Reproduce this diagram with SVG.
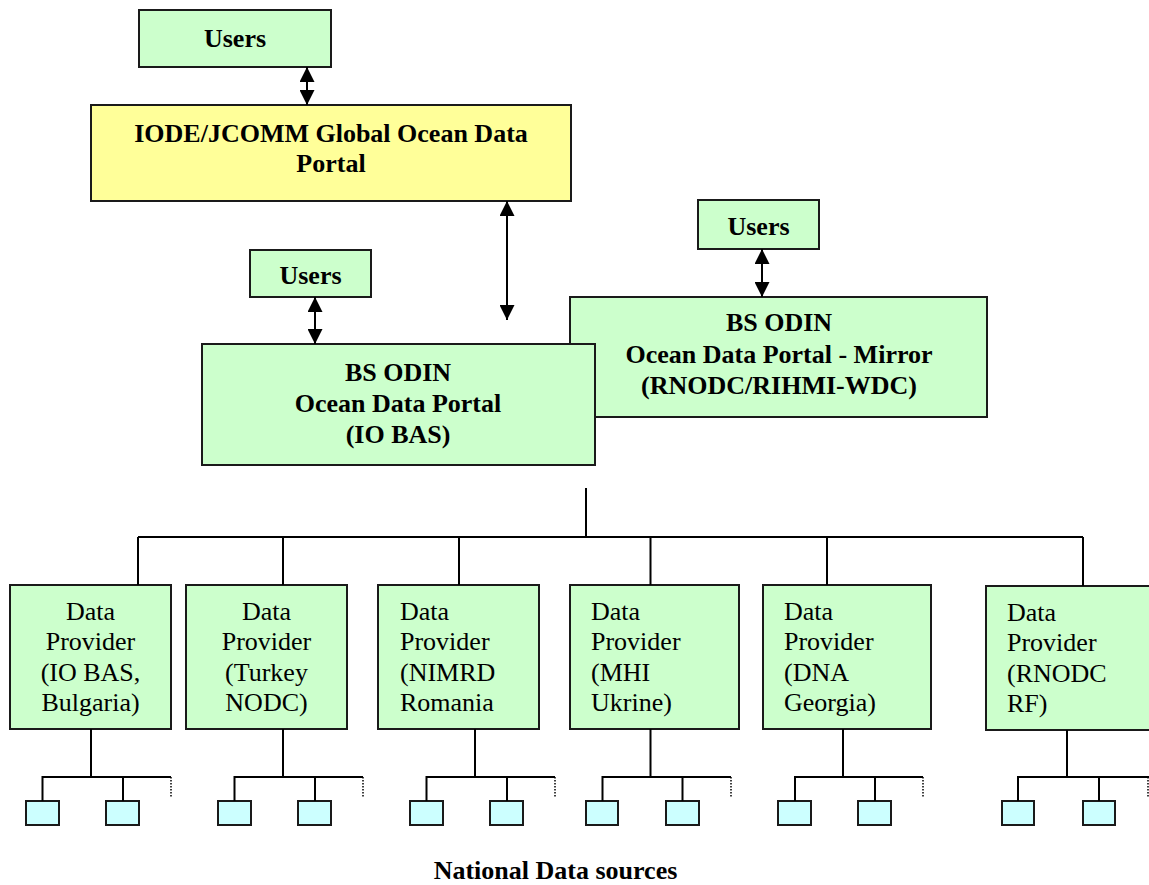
<svg xmlns="http://www.w3.org/2000/svg" width="1149" height="885" viewBox="0 0 1149 885">
<style>
.g{fill:#CCFFCC;stroke:#1a1a1a;stroke-width:2}
.y{fill:#FFFF99;stroke:#1a1a1a;stroke-width:2}
.c{fill:#CCFFFF;stroke:#1a1a1a;stroke-width:2}
.b{font-family:"Liberation Serif","Times New Roman",serif;font-weight:bold;font-size:26px;fill:#000;text-anchor:middle}
.r{font-family:"Liberation Serif","Times New Roman",serif;font-size:26px;fill:#000}
.m{text-anchor:middle}
.ln{stroke:#000;stroke-width:2;fill:none}
.dt{stroke:#000;stroke-width:1.5;fill:none;stroke-dasharray:1.5 1.5}
</style>
<defs>
<marker id="ah" viewBox="0 0 10 10" refX="10" refY="5" markerWidth="16" markerHeight="15" markerUnits="userSpaceOnUse" orient="auto-start-reverse">
<path d="M0,0 L10,5 L0,10 z" fill="#000"/>
</marker>
</defs>

<g id="users-top"><rect class="g" x="139" y="10" width="192" height="57"/><text class="b" x="235" y="47">Users</text></g>
<g id="global-portal"><rect class="y" x="91" y="105" width="480" height="96"/><text class="b" x="331" y="142">IODE/JCOMM Global Ocean Data</text><text class="b" x="331" y="172">Portal</text></g>
<g id="users-left"><rect class="g" x="250" y="250" width="121" height="47"/><text class="b" x="310.5" y="284">Users</text></g>
<g id="users-right"><rect class="g" x="698" y="200" width="121" height="49"/><text class="b" x="758.5" y="235">Users</text></g>
<g id="mirror-portal"><rect class="g" x="570" y="297" width="417" height="120"/><text class="b" x="779" y="331">BS ODIN</text><text class="b" x="779" y="363">Ocean Data Portal - Mirror</text><text class="b" x="779" y="394">(RNODC/RIHMI-WDC)</text></g>
<g id="main-portal"><rect class="g" x="202" y="344" width="393" height="121"/><text class="b" x="398" y="381">BS ODIN</text><text class="b" x="398" y="412">Ocean Data Portal</text><text class="b" x="398" y="443">(IO BAS)</text></g>

<g id="dp-bulgaria"><rect class="g" x="10" y="585" width="161" height="144"/><text class="r m" x="90.5" y="620">Data</text><text class="r m" x="90.5" y="650">Provider</text><text class="r m" x="90.5" y="681">(IO BAS,</text><text class="r m" x="90.5" y="711">Bulgaria)</text></g>
<g id="dp-turkey"><rect class="g" x="186" y="585" width="161" height="144"/><text class="r m" x="266.5" y="620">Data</text><text class="r m" x="266.5" y="650">Provider</text><text class="r m" x="266.5" y="681">(Turkey</text><text class="r m" x="266.5" y="711">NODC)</text></g>
<g id="dp-romania"><rect class="g" x="378" y="585" width="161" height="144"/><text class="r" x="400" y="620">Data</text><text class="r" x="400" y="650">Provider</text><text class="r" x="400" y="681">(NIMRD</text><text class="r" x="400" y="711">Romania</text></g>
<g id="dp-ukraine"><rect class="g" x="570" y="585" width="169" height="144"/><text class="r" x="591" y="620">Data</text><text class="r" x="591" y="650">Provider</text><text class="r" x="591" y="681">(MHI</text><text class="r" x="591" y="711">Ukrine)</text></g>
<g id="dp-georgia"><rect class="g" x="763" y="585" width="168" height="144"/><text class="r" x="784" y="620">Data</text><text class="r" x="784" y="650">Provider</text><text class="r" x="784" y="681">(DNA</text><text class="r" x="784" y="711">Georgia)</text></g>
<g id="dp-rf"><rect class="g" x="986" y="586" width="170" height="144"/><text class="r" x="1007" y="621">Data</text><text class="r" x="1007" y="651">Provider</text><text class="r" x="1007" y="682">(RNODC</text><text class="r" x="1007" y="712">RF)</text></g>

<g id="sources">
<rect class="c" x="26" y="801" width="33" height="24"/><rect class="c" x="106" y="801" width="33" height="24"/>
<rect class="c" x="218" y="801" width="33" height="24"/><rect class="c" x="298" y="801" width="33" height="24"/>
<rect class="c" x="410" y="801" width="33" height="24"/><rect class="c" x="490" y="801" width="33" height="24"/>
<rect class="c" x="586" y="801" width="32" height="24"/><rect class="c" x="666" y="801" width="33" height="24"/>
<rect class="c" x="778" y="801" width="33" height="24"/><rect class="c" x="858" y="801" width="33" height="24"/>
<rect class="c" x="1002" y="801" width="32" height="24"/><rect class="c" x="1083" y="801" width="32" height="24"/>
</g>

<g id="connectors">
<line class="ln" x1="307" y1="67" x2="307" y2="105" marker-start="url(#ah)" marker-end="url(#ah)"/>
<line class="ln" x1="507" y1="201" x2="507" y2="320" marker-start="url(#ah)" marker-end="url(#ah)"/>
<line class="ln" x1="315" y1="297" x2="315" y2="344" marker-start="url(#ah)" marker-end="url(#ah)"/>
<line class="ln" x1="762" y1="249" x2="762" y2="297" marker-start="url(#ah)" marker-end="url(#ah)"/>
<path class="ln" d="M586,488 V537 M138,537 H1083 M138,537 V585 M283,537 V585 M459,537 V585 M650.5,537 V585 M827,537 V585 M1083,537 V586"/>
<path class="ln" d="M91,729 V777 M42.5,801 V777 H171 M123,777 V801"/>
<path class="ln" d="M283,729 V777 M234.5,801 V777 H363 M315,777 V801"/>
<path class="ln" d="M475,729 V777 M426.5,801 V777 H555 M507,777 V801"/>
<path class="ln" d="M650.5,729 V777 M602.5,801 V777 H731 M682.5,777 V801"/>
<path class="ln" d="M843,729 V777 M795,801 V777 H923 M875,777 V801"/>
<path class="ln" d="M1067,730 V777 M1018,801 V777 H1149 M1099,777 V801"/>
<path class="dt" d="M171,777 V797 M363,777 V797 M555,777 V797 M731,777 V797 M923,777 V797 M1148,777 V797"/>
</g>

<text class="b" x="555.5" y="879">National Data sources</text>
</svg>
